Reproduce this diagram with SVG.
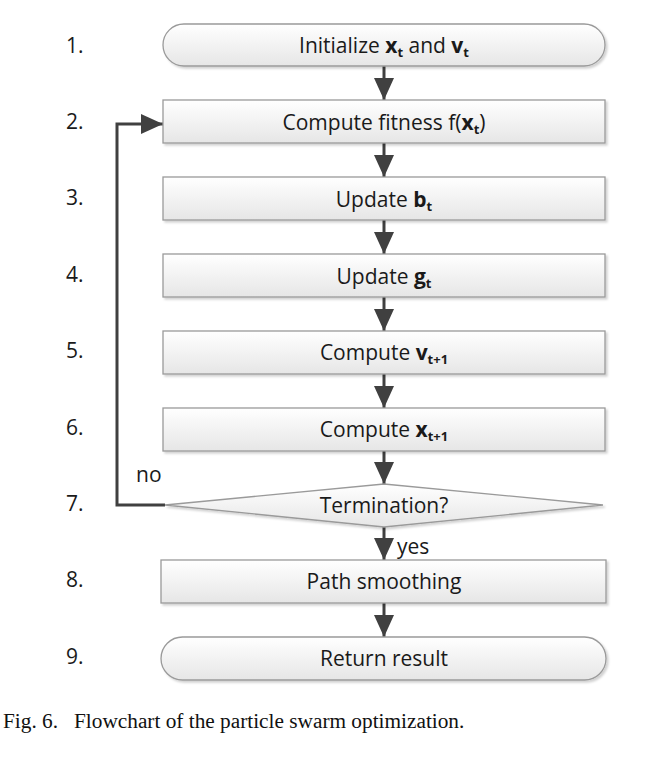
<svg xmlns="http://www.w3.org/2000/svg" width="664" height="760" viewBox="0 0 664 760">
<defs>
<linearGradient id="g" x1="0" y1="0" x2="0" y2="1">
<stop offset="0" stop-color="#ffffff"/>
<stop offset="1" stop-color="#e6e6e6"/>
</linearGradient>
<marker id="ah" viewBox="0 0 10 10" refX="10" refY="5" markerWidth="22" markerHeight="20" markerUnits="userSpaceOnUse" orient="auto" preserveAspectRatio="none">
<path d="M0,0 L10,5 L0,10 z" fill="#404040"/>
</marker>
<filter id="sh" x="-5%" y="-20%" width="110%" height="150%">
<feDropShadow dx="2" dy="2" stdDeviation="1.2" flood-color="#000" flood-opacity="0.18"/>
</filter>
</defs>
<style>
.box{fill:url(#g);stroke:#9a9a9a;stroke-width:1.3;filter:url(#sh)}
.t{font-family:"Open Sans","Liberation Sans",sans-serif;font-size:21px;fill:#1a1a1a;text-anchor:middle}
.n{font-family:"Open Sans","Liberation Sans",sans-serif;font-size:21px;fill:#1a1a1a}
.b{font-weight:bold}
.s{font-size:13px;font-weight:bold}
.c{stroke:#404040;stroke-width:3;fill:none;marker-end:url(#ah)}
.cap{font-family:"Liberation Serif","Times New Roman",serif;font-size:21.3px;fill:#111}
</style>
<g id="connectors">
<line class="c" x1="384" y1="66" x2="384" y2="100"/>
<line class="c" x1="384" y1="143" x2="384" y2="177"/>
<line class="c" x1="384" y1="220" x2="384" y2="254"/>
<line class="c" x1="384" y1="297" x2="384" y2="331"/>
<line class="c" x1="384" y1="374" x2="384" y2="408"/>
<line class="c" x1="384" y1="451" x2="384" y2="484"/>
<line class="c" x1="384" y1="527" x2="384" y2="560"/>
<line class="c" x1="384" y1="603" x2="384" y2="637"/>
<polyline class="c" points="165,505 117,505 117,124 163,124"/>
<text class="n" x="136" y="482">no</text>
<text class="n" x="397" y="554">yes</text>
</g>
<g id="labels">
<text class="n" x="66" y="53">1.</text>
<text class="n" x="66" y="129">2.</text>
<text class="n" x="66" y="205">3.</text>
<text class="n" x="66" y="282">4.</text>
<text class="n" x="66" y="358">5.</text>
<text class="n" x="66" y="435">6.</text>
<text class="n" x="66" y="511">7.</text>
<text class="n" x="66" y="587">8.</text>
<text class="n" x="66" y="664">9.</text>
</g>
<g id="n1">
<rect class="box" x="163" y="24" width="442" height="42" rx="21"/>
<text class="t" x="384" y="53">Initialize <tspan class="b">x</tspan><tspan class="s" dy="4">t</tspan><tspan dy="-4"> and </tspan><tspan class="b">v</tspan><tspan class="s" dy="4">t</tspan></text>
</g>
<g id="n2">
<rect class="box" x="163" y="100" width="442" height="43"/>
<text class="t" x="384" y="130">Compute fitness f(<tspan class="b">x</tspan><tspan class="s" dy="4">t</tspan><tspan dy="-4">)</tspan></text>
</g>
<g id="n3">
<rect class="box" x="163" y="177" width="442" height="43"/>
<text class="t" x="384" y="207">Update <tspan class="b">b</tspan><tspan class="s" dy="4">t</tspan></text>
</g>
<g id="n4">
<rect class="box" x="163" y="254" width="442" height="43"/>
<text class="t" x="384" y="284">Update <tspan class="b">g</tspan><tspan class="s" dy="4">t</tspan></text>
</g>
<g id="n5">
<rect class="box" x="163" y="331" width="442" height="43"/>
<text class="t" x="384" y="360">Compute <tspan class="b">v</tspan><tspan class="s" dy="4">t+1</tspan></text>
</g>
<g id="n6">
<rect class="box" x="163" y="408" width="442" height="43"/>
<text class="t" x="384" y="437">Compute <tspan class="b">x</tspan><tspan class="s" dy="4">t+1</tspan></text>
</g>
<g id="n7">
<polygon class="box" points="165,505 384,484 603,505 384,527"/>
<text class="t" x="384" y="513">Termination?</text>
</g>
<g id="n8">
<rect class="box" x="161" y="560" width="445" height="43"/>
<text class="t" x="384" y="589">Path smoothing</text>
</g>
<g id="n9">
<rect class="box" x="161" y="637" width="445" height="43" rx="21.5"/>
<text class="t" x="384" y="666">Return result</text>
</g>
<text class="cap" x="3" y="728" xml:space="preserve">Fig. 6.   Flowchart of the particle swarm optimization.</text>
</svg>
